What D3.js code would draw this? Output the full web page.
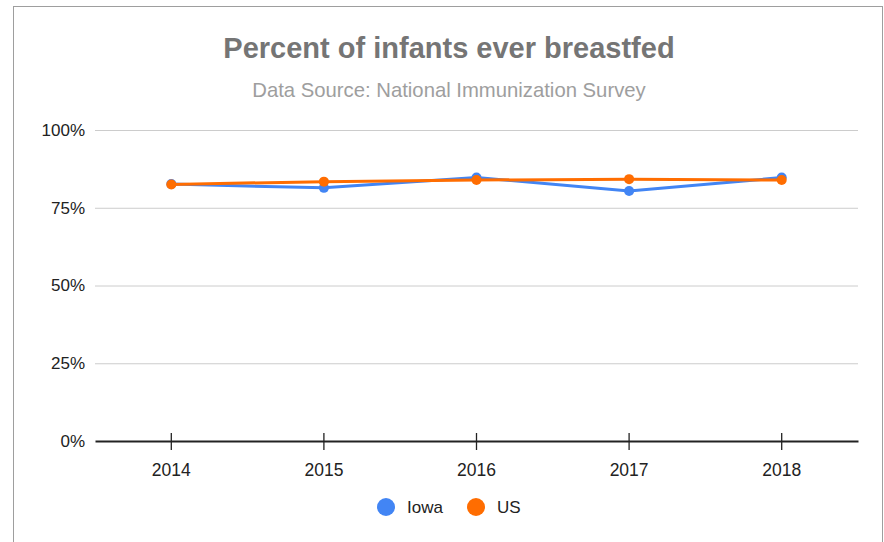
<!DOCTYPE html>
<html>
<head>
<meta charset="utf-8">
<title>Percent of infants ever breastfed</title>
<script src="https://cdn.jsdelivr.net/npm/d3@7"></script>
<style>
    body { margin: 0; background: #fff; }
    text { font-family: "Liberation Sans", Arial, sans-serif; }
</style>
</head>
<body>
<svg id="chart" width="884" height="542"></svg>
<script>
    // data
    var years = ["2014", "2015", "2016", "2017", "2018"];
    var iowa = [82.6, 81.4, 84.7, 80.4, 84.7];
    var us = [82.5, 83.4, 83.9, 84.2, 83.9];
    var yTicks = [0, 25, 50, 75, 100];
    var seriesNames = ["Iowa", "US"];
    var seriesColors = ["#4285f4", "#ff6d01"];

    var svg = d3.select("#chart");

    // outer frame
    svg.append("rect")
        .attr("x", 13.5).attr("y", 6.5)
        .attr("width", 869).attr("height", 545)
        .attr("fill", "none")
        .attr("stroke", "#9e9e9e");

    var x = d3.scaleBand().domain(years).range([95, 858]);
    var y = d3.scaleLinear().domain([0, 100]).range([441, 130]);

    svg.append("text")
        .attr("x", 449).attr("y", 58)
        .attr("text-anchor", "middle")
        .attr("font-size", 29).attr("font-weight", "bold")
        .attr("fill", "#757575")
        .text("Percent of infants ever breastfed");

    svg.append("text")
        .attr("x", 449).attr("y", 97)
        .attr("text-anchor", "middle")
        .attr("font-size", 20.3)
        .attr("fill", "#9e9e9e")
        .text("Data Source: National Immunization Survey");

    // gridlines + y labels
    var yAxis = d3.axisLeft(y)
        .tickValues(yTicks)
        .tickSize(-(858 - 95))
        .tickPadding(10)
        .tickFormat(function(d) { return d + "%"; });

    var gy = svg.append("g")
        .attr("transform", "translate(95,0)")
        .call(yAxis);
    gy.select(".domain").remove();
    gy.selectAll(".tick line")
        .attr("stroke", function(d) { return d === 0 ? "none" : "#cccccc"; });
    gy.selectAll(".tick text")
        .attr("font-size", 17)
        .attr("font-family", "'Liberation Sans', Arial, sans-serif")
        .attr("fill", "#222")
        .attr("x", -10);

    // x axis baseline and ticks
    var xAxis = d3.axisBottom(x).tickSize(8).tickPadding(15).tickSizeOuter(0);
    var gx = svg.append("g")
        .attr("transform", "translate(0," + y(0) + ")")
        .call(xAxis);
    gx.select(".domain").attr("stroke", "#222").attr("stroke-width", 2);
    gx.selectAll(".tick line")
        .attr("y1", -8).attr("y2", 9)
        .attr("stroke", "#222").attr("stroke-width", 1.3);
    gx.selectAll(".tick text")
        .attr("font-size", 17.5)
        .attr("font-family", "'Liberation Sans', Arial, sans-serif")
        .attr("fill", "#222");

    var line = d3.line()
        .x(function(d, i) { return x(years[i]) + x.bandwidth() / 2; })
        .y(function(d) { return y(d); });

    [iowa, us].forEach(function(vals, k) {
        var g = svg.append("g");
        g.append("path")
            .datum(vals)
            .attr("d", line)
            .attr("fill", "none")
            .attr("stroke", seriesColors[k])
            .attr("stroke-width", 3)
            .attr("stroke-linejoin", "round");
        g.selectAll("circle")
            .data(vals)
            .enter().append("circle")
            .attr("cx", function(d, i) { return x(years[i]) + x.bandwidth() / 2; })
            .attr("cy", function(d) { return y(d); })
            .attr("r", 5)
            .attr("fill", seriesColors[k]);
    });

    // legend
    var legendX = [386, 476];
    seriesNames.forEach(function(name, k) {
        svg.append("circle")
            .attr("cx", legendX[k]).attr("cy", 507)
            .attr("r", 9)
            .attr("fill", seriesColors[k]);
        svg.append("text")
            .attr("x", legendX[k] + 21).attr("y", 513)
            .attr("font-size", 17)
            .attr("fill", "#222")
            .text(name);
    });
</script>
</body>
</html>
